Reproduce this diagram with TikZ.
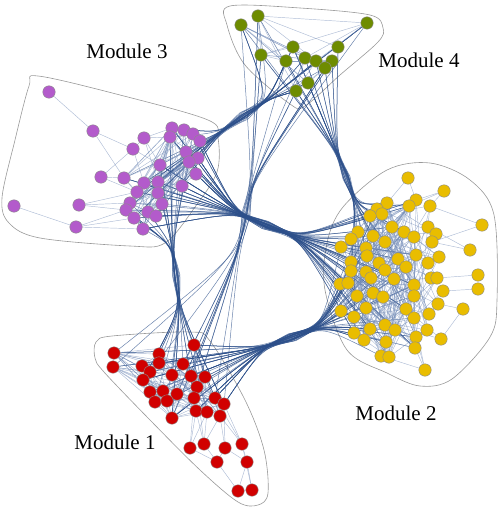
\documentclass[tikz,border=0pt]{standalone}
\usepackage{fontspec}
\setmainfont{Liberation Serif}
\usetikzlibrary{calc, backgrounds}
\definecolor{modpurple}{HTML}{B35BCB}
\definecolor{modgreen}{HTML}{6E8C00}
\definecolor{modyellow}{HTML}{E9BD00}
\definecolor{modred}{HTML}{D10000}
\definecolor{linkblue}{HTML}{7890BA}
\definecolor{bundblue}{HTML}{2C4F8A}

\newcommand{\drawbundle}[8]{%
  \foreach \k in {1,...,#1}{%
    \pgfmathrandominteger{\ia}{1}{#3}%
    \pgfmathrandominteger{\ib}{1}{#5}%
    \pgfmathsetmacro{\jx}{4*rand}%
    \pgfmathsetmacro{\jy}{4*rand}%
    \draw[xlink] (#2\ia) .. controls #6 .. ($#7+(\jx,\jy)$) .. controls #8 .. (#4\ib);
  }}
\newcommand{\linkup}[5]{%
  \foreach \k in {1,...,#1}{%
    \pgfmathrandominteger{\ia}{#3}{#4}%
    \pgfmathrandominteger{\ib}{1}{#5}%
    \ifnum\ia=\ib\else\draw[inlink] (#2\ia) -- (#2\ib);\fi
  }}

\begin{document}
\begin{tikzpicture}[x=1pt, y=-1pt,
  vtx/.style={circle, draw=black!45, line width=0.4pt, fill=#1,
              minimum size=12.5pt, inner sep=0pt},
  inlink/.style={linkblue, line width=0.45pt, opacity=0.6},
  xlink/.style={bundblue, line width=0.5pt, opacity=0.7},
  hull/.style={black!40, line width=0.6pt},
  lbl/.style={font=\fontsize{21}{24}\selectfont}
]
\useasboundingbox (0,0) rectangle (498,508);
\pgfmathsetseed{23}

\foreach \x/\y [count=\i] in {172/128, 184/130, 193/134, 170/137, 200/141,
  186/152, 198/158, 189/162, 160/165, 196/174, 124/178, 144/183, 158/182,
  182/186, 137/192, 158/193, 130/203, 162/204, 126/210, 148/212, 156/216,
  134/218, 143/229, 144/138, 133/149, 101/177, 93/131, 49/92, 79/205,
  76/227, 14/206}
  \node[vtx=modpurple] (p\i) at (\x,\y) {};
\foreach \x/\y [count=\i] in {258/16, 241/25, 367/23, 293/47, 338/47,
  261/55, 286/61, 305/58, 316/61, 332/61, 325/68, 308/83, 296/91}
  \node[vtx=modgreen] (g\i) at (\x,\y) {};
\foreach \x/\y [count=\i] in {416/200, 387/203, 409/206, 377/209, 382/214,
  370/216, 392/227, 358/232, 404/232, 373/236, 414/237, 351/239, 385/242,
  341/247, 366/248, 367/256, 416/255, 398/259, 351/262, 379/263, 406/267,
  385/270, 351/271, 366/272, 371/278, 394/279, 340/284, 348/283, 414/285,
  373/293, 357/296, 383/297, 414/296, 366/308, 406/309, 341/311, 354/317,
  414/318, 370/329, 385/325, 395/330, 354/333, 416/337, 364/340, 386/342,
  415/348, 381/356, 389/357, 430/206, 428/227, 436/234, 432/242, 439/257,
  428/263, 431/278, 437/278, 443/291, 438/304, 429/314, 427/330, 441/339,
  425/370, 408/178, 444/191, 482/225, 470/250, 478/275, 478/289, 463/309}
  \node[vtx=modyellow] (y\i) at (\x,\y) {};
\foreach \x/\y [count=\i] in {114/353, 113/367, 159/354, 194/345, 142/366,
  159/363, 183/364, 150/372, 172/375, 191/376, 205/377, 143/380, 197/387,
  150/392, 163/391, 177/394, 194/398, 215/398, 155/402, 167/401, 224/404,
  196/411, 207/412, 220/416, 172/418, 190/448, 204/444, 225/448, 242/444,
  217/462, 247/462, 238/491, 252/490}
  \node[vtx=modred] (r\i) at (\x,\y) {};

\begin{scope}[on background layer]
\draw[hull] plot[smooth cycle, tension=0.55] coordinates {(38,76) (120,95)
  (208,120) (218,138) (217,172) (195,207) (165,243) (130,246) (40,238)
  (9,223) (2,198) (15,140) (29,86)};
\draw[hull] plot[smooth cycle, tension=0.55] coordinates {(230,6) (300,8)
  (370,15) (383,28) (378,42) (340,75) (305,106) (290,104) (245,65) (227,25)};
\draw[hull] plot[smooth cycle, tension=0.55] coordinates {(325,290) (327,243)
  (343,207) (387,170) (430,163) (470,180) (494,215) (497,300) (490,337)
  (452,379) (420,386) (387,373) (347,350)};
\draw[hull] plot[smooth cycle, tension=0.55] coordinates {(96,342) (112,336)
  (190,332) (210,341) (245,400) (264,450) (268,493) (258,505) (238,502)
  (200,470) (150,420) (104,372) (95,358)};

\drawbundle{60}{p}{23}{y}{48}{(235,212)}{(266,225)}{(300,238)}
\drawbundle{30}{p}{23}{g}{13}{(219,133)}{(244,116)}{(269,99)}
\drawbundle{25}{p}{23}{r}{25}{(172,245)}{(176,277)}{(180,310)}
\drawbundle{15}{g}{13}{r}{25}{(252,180)}{(246,214)}{(238,255)}
\drawbundle{50}{r}{25}{y}{48}{(262,348)}{(292,337)}{(322,326)}
\drawbundle{25}{g}{13}{y}{48}{(336,150)}{(346,178)}{(356,205)}

\linkup{110}{p}{1}{23}{23}
\linkup{35}{g}{1}{13}{13}
\linkup{240}{y}{1}{48}{48}
\linkup{45}{y}{49}{62}{48}
\linkup{130}{r}{1}{25}{25}
\foreach \a/\b in {28/27, 27/25, 27/11, 25/26, 25/24, 24/4, 24/9, 25/9,
  26/11, 26/15, 29/17, 29/19, 29/15, 30/31, 30/19, 30/23, 30/22, 24/13,
  25/12, 24/1}
  \draw[inlink] (p\a) -- (p\b);
\foreach \a/\b in {63/2, 63/1, 64/3, 64/1, 65/49, 65/52, 66/50, 66/52,
  67/56, 68/57, 69/58, 69/61, 62/46, 62/43, 62/47, 64/49}
  \draw[inlink] (y\a) -- (y\b);
\foreach \a/\b in {26/22, 26/23, 26/17, 27/22, 27/24, 27/23, 28/24, 28/21,
  29/21, 29/24, 30/27, 30/28, 31/29, 31/28, 32/30, 32/31, 33/31, 33/29,
  32/33, 26/30, 29/18, 27/13}
  \draw[inlink] (r\a) -- (r\b);
\end{scope}

\node[lbl] (m3) at (127,51) {Module 3};
\node[lbl] (m4) at (419,60) {Module 4};
\node[lbl] (m2) at (396,413) {Module 2};
\node[lbl] (m1) at (115,442) {Module 1};
\end{tikzpicture}
\end{document}
